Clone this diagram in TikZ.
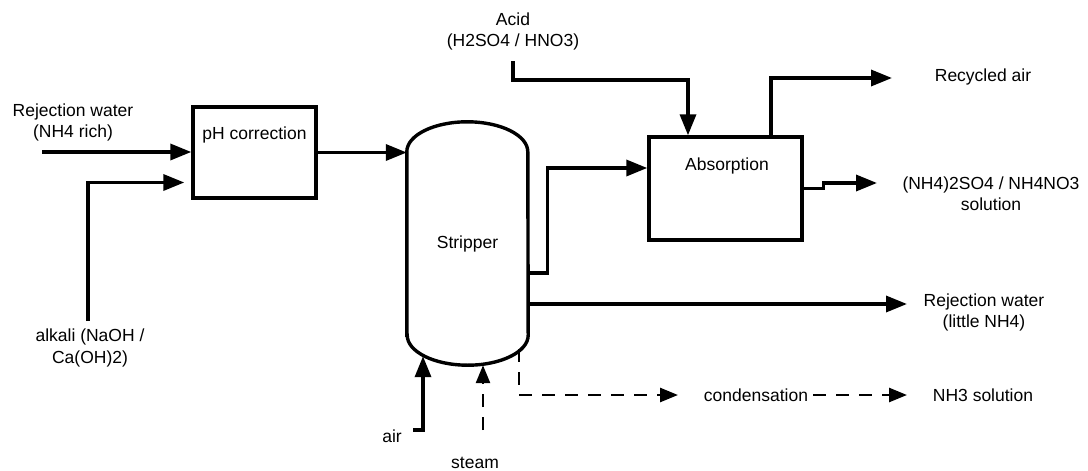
\documentclass[tikz,border=0pt]{standalone}
\usepackage{fontspec}
\setmainfont{Liberation Sans}
\usepackage{tikz}
\usetikzlibrary{arrows.meta,positioning,calc}
\tikzset{
  blk/.style={draw,line width=3.4pt,fill=white,inner sep=0pt},
  lbl/.style={align=center,inner sep=0pt,font=\fontsize{17.5}{21.5}\selectfont},
  arr/.style={-{Triangle[length=21pt,width=16pt]},line width=3.4pt},
  darr/.style={-{Triangle[length=18pt,width=14pt]},line width=2.6pt,dash pattern=on 13pt off 10pt},
}

\begin{document}
\begin{tikzpicture}[x=1pt,y=-1pt]
  \useasboundingbox (0,0) rectangle (1088,471);
  % units
  \node[blk,minimum width=123pt,minimum height=91pt,
        label={[lbl,anchor=center,yshift=-30pt]north:pH correction}] (ph) at (254.5,152.5) {};
  \node[blk,minimum width=153pt,minimum height=103pt,
        label={[lbl,anchor=center,yshift=-31pt,xshift=1.5pt]north:Absorption}] (absorb) at (725.5,188.5) {};
  \node[lbl,minimum width=121pt,minimum height=183pt] (strip) at (467.5,243.5) {};
  \draw[line width=3.4pt,fill=white] (strip.south west) -- (strip.north west)
    arc[start angle=180,end angle=0,x radius=60.5pt,y radius=30pt]
    -- (strip.south east)
    arc[start angle=0,end angle=-180,x radius=60.5pt,y radius=30pt] -- cycle;
  \node[lbl] at (strip.center) {Stripper};
  % labels
  \node[lbl] (rwinl) at (73,122.5) {Rejection water\\(NH4 rich)};
  \node[lbl] (alkl) at (90,348) {alkali (NaOH /\\Ca(OH)2)};
  \node[lbl] (acidl) at (513,31.5) {Acid\\(H2SO4 / HNO3)};
  \node[lbl] (airl) at (392,436) {air};
  \node[lbl] (steaml) at (475,463) {steam};
  \node[lbl] (recl) at (983,77) {Recycled air};
  \node[lbl] (sulfl) at (991,193.5) {(NH4)2SO4 / NH4NO3\\solution};
  \node[lbl] (rwoutl) at (984,312.5) {Rejection water\\(little NH4)};
  \node[lbl] (cond) at (756,395) {condensation};
  \node[lbl] (nh3l) at (983,395) {NH3 solution};
  % free ends
  \coordinate (rwin) at (42,152);
  \coordinate (alk) at (88,321);
  \coordinate (acid) at (513,61);
  \coordinate (airin) at (413,430);
  \coordinate (steamin) at (483,430);
  \coordinate (rectip) at (892,78);
  \coordinate (sulftip) at (877,183);
  \coordinate (rwouttip) at (907,304);
  \coordinate (condtip) at (678,395);
  \coordinate (nh3tip) at (907,395);
  % streams
  \draw[arr] (rwin) -- (ph.west |- rwin);
  \draw[arr] (alk) |- ([shift={(-7,30)}]ph.west);
  \draw[arr] (ph.east) -- (ph.east -| strip.west);
  \draw[arr] ([yshift=-29.5pt]strip.east) -- ++(19,0) |- ([yshift=20.5pt]absorb.west);
  \draw[arr] ([yshift=-60.5pt]strip.east) -- (rwouttip);
  \draw[arr] (acid) -- ++(0,19) -| ([xshift=-37.5pt]absorb.north);
  \draw[arr] ([xshift=45.5pt]absorb.north) |- (rectip);
  \draw[arr] (absorb.east) -- ++(20,0) |- (sulftip);
  \draw[arr] (airin) -- ++(10,0) -- ([shift={(-44.5,21)}]strip.south);
  \draw[darr] (steamin) -- ([shift={(15.5,30)}]strip.south);
  \draw[darr] ([shift={(51.5,14)}]strip.south) |- (condtip);
  \draw[darr] ([xshift=5pt]cond.east) -- (nh3tip);
\end{tikzpicture}
\end{document}
